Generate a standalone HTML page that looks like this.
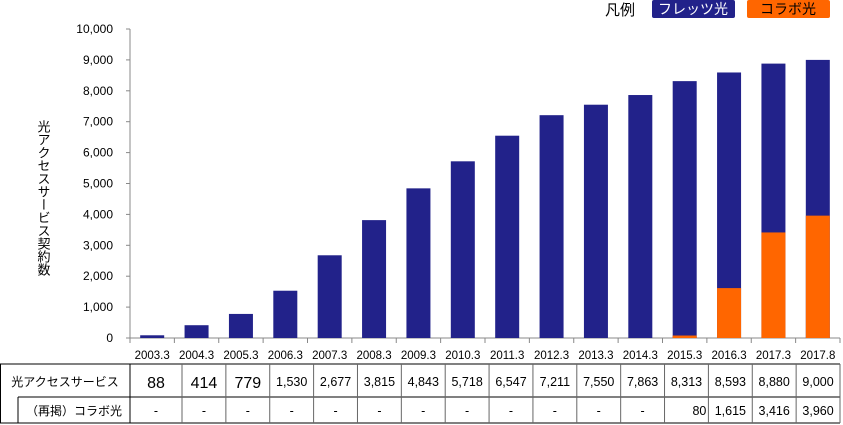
<!DOCTYPE html>
<html><head><meta charset="utf-8"><style>
body{margin:0;background:#fff;}
svg{display:block;font-family:"Liberation Sans","Noto Sans CJK JP",sans-serif;}
</style></head><body>
<svg id="chart" width="843" height="425" viewBox="0 0 843 425"></svg>
<script>
const categories=["2003.3","2004.3","2005.3","2006.3","2007.3","2008.3","2009.3","2010.3","2011.3","2012.3","2013.3","2014.3","2015.3","2016.3","2017.3","2017.8"];
const totalValues=[88,414,779,1530,2677,3815,4843,5718,6547,7211,7550,7863,8313,8593,8880,9000];
const collaboValues=[0,0,0,0,0,0,0,0,0,0,0,0,80,1615,3416,3960];
const yTicks=[0,1000,2000,3000,4000,5000,6000,7000,8000,9000,10000];
const NS="http://www.w3.org/2000/svg";
const svg=document.getElementById('chart');
const X0=130,X1=840,Y0=338,Y1=29,YMAX=10000;
const bw=(X1-X0)/categories.length;
const xc=i=>X0+bw*(i+0.5);
const y=v=>Y0-(Y0-Y1)*v/YMAX;
function mk(tag,attrs,parent){const e=document.createElementNS(NS,tag);for(const k in attrs)e.setAttribute(k,attrs[k]);(parent||svg).appendChild(e);return e;}
const fmt=v=>v.toLocaleString('en-US');
// y axis
const ax=mk('line',{x1:X0,y1:Y1,x2:X0,y2:Y0,stroke:'#888'});


const bx=mk('line',{x1:X0-4,y1:Y0,x2:X1,y2:Y0,stroke:'#888'});


yTicks.forEach(t=>{
  mk('line',{x1:X0-4,y1:y(t),x2:X0,y2:y(t),stroke:'#888'});
  const tx=mk('text',{x:113,y:y(t)+4,'text-anchor':'end','font-size':12,fill:'#000'});
  tx.textContent=fmt(t);
  
  
});
for(let i=0;i<=categories.length;i++){mk('line',{x1:X0+bw*i,y1:Y0,x2:X0+bw*i,y2:Y0+5,stroke:'#888'});}
// bars
categories.forEach((c,i)=>{
  const b=mk('rect',{x:xc(i)-12,y:y(totalValues[i]),width:24,height:Y0-y(totalValues[i]),fill:'#22228a'});
  
  
  if(collaboValues[i]>0){
    const o=mk('rect',{x:xc(i)-12,y:y(collaboValues[i]),width:24,height:Y0-y(collaboValues[i]),fill:'#ff6600'});
    
    
  }
  const l=mk('text',{x:xc(i),y:359,'text-anchor':'middle','font-size':11.5,fill:'#000'});
  l.textContent=c;
  
  
});
// y title
const yt=mk('text',{x:43,y:120,'font-size':13,fill:'#000','writing-mode':'tb','glyph-orientation-vertical':0,'letter-spacing':'0'});
yt.textContent='光アクセスサービス契約数';


// legend
const lg=mk('text',{x:605,y:15,'font-size':15,fill:'#000'});lg.textContent='凡例';


const lb=mk('rect',{x:652,y:0,width:83,height:18,rx:2,fill:'#22228a'});


const lt=mk('text',{x:693,y:14,'text-anchor':'middle','font-size':14,fill:'#fff'});lt.textContent='フレッツ光';


const ob=mk('rect',{x:747,y:0,width:83,height:18,rx:2,fill:'#ff6600'});


const ot=mk('text',{x:788,y:14,'text-anchor':'middle','font-size':14,fill:'#000'});ot.textContent='コラボ光';


// table
const T0=364,T1=397,T2=423,C0=130,C1=182,CW=(840-182)/15;
const colL=i=>i===0?C0:C1+CW*(i-1);
const colR=i=>C1+CW*i;
mk('line',{x1:0,y1:T0,x2:840,y2:T0,stroke:'#000'});
mk('line',{x1:18,y1:T1,x2:840,y2:T1,stroke:'#000'});
mk('line',{x1:0,y1:T2,x2:840,y2:T2,stroke:'#000'});
mk('line',{x1:0.5,y1:T0,x2:0.5,y2:T2,stroke:'#000'});
mk('line',{x1:18,y1:T1,x2:18,y2:T2,stroke:'#000'});
mk('line',{x1:C0,y1:T0,x2:C0,y2:T2,stroke:'#000'});
for(let i=0;i<16;i++){mk('line',{x1:colR(i),y1:T0,x2:colR(i),y2:T2,stroke:'#666'});}
const h1=mk('text',{x:65,y:386,'text-anchor':'middle','font-size':12,fill:'#000'});h1.textContent='光アクセスサービス';


const h2=mk('text',{x:74,y:415,'text-anchor':'middle','font-size':12,fill:'#000'});h2.textContent='（再掲）コラボ光';


categories.forEach((c,i)=>{
  const cx=(colL(i)+colR(i))/2;
  const big=totalValues[i]<1000;
  const a=mk('text',{x:cx,y:big?388:386,'text-anchor':'middle','font-size':big?16:12.5,fill:'#000'});
  a.textContent=fmt(totalValues[i]);
  
  
  const b=mk('text',{x:cx,y:415,'text-anchor':'middle','font-size':12.5,fill:'#000'});
  b.textContent=collaboValues[i]>0?fmt(collaboValues[i]):'-';
  if(collaboValues[i]>0&&collaboValues[i]<1000){b.setAttribute('text-anchor','end');b.setAttribute('x',colR(i)-2);}
  
  
});
</script>
</body></html>
